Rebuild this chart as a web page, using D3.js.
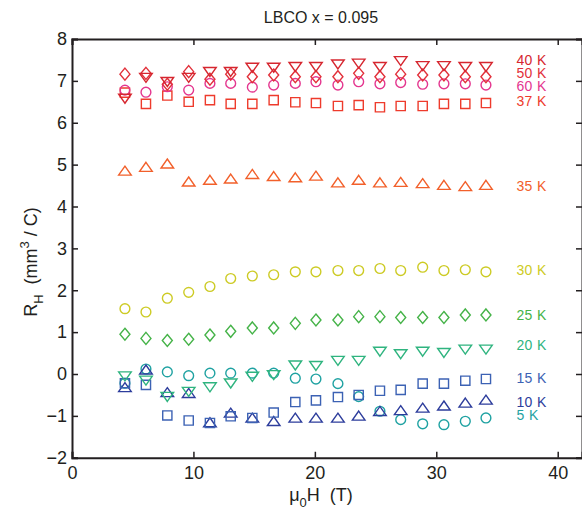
<!DOCTYPE html>
<html>
<head>
<meta charset="utf-8">
<script src="https://cdn.jsdelivr.net/npm/d3@7"></script>
<style>
  body { margin: 0; background: #fff; }
  text { font-family: Arial, "Liberation Sans", Helvetica, sans-serif; fill: #231f20; }
</style>
</head>
<body>
<svg id="chart"></svg>
<script>
var vWidth = 582;
var vHeight = 510;

// field values (T), same for every temperature
var fields = [4.36, 6.09, 7.85, 9.61, 11.36, 13.07, 14.85, 16.61, 18.39, 20.09, 21.9, 23.61, 25.36, 27.07, 28.88, 30.63, 32.39, 34.09];

// R_H values per temperature
var r40K = [6.58, 7.08, 6.98, 7.08, 7.22, 7.22, 7.32, 7.32, 7.34, 7.34, 7.40, 7.42, 7.34, 7.48, 7.36, 7.36, 7.34, 7.34];
var r50K = [7.16, 7.18, 6.92, 7.22, 7.04, 7.16, 7.10, 7.14, 7.10, 7.10, 7.10, 7.18, 7.10, 7.16, 7.14, 7.14, 7.10, 7.10];
var r60K = [6.78, 6.73, 6.86, 6.78, 6.94, 6.94, 6.85, 6.90, 6.94, 6.98, 6.90, 6.98, 6.93, 6.96, 6.92, 6.93, 6.93, 6.90];
var r37K = [6.72, 6.45, 6.65, 6.50, 6.54, 6.45, 6.45, 6.54, 6.49, 6.47, 6.40, 6.42, 6.37, 6.40, 6.40, 6.45, 6.45, 6.47];
var r35K = [4.85, 4.94, 5.02, 4.59, 4.63, 4.66, 4.77, 4.72, 4.69, 4.73, 4.57, 4.63, 4.57, 4.58, 4.55, 4.51, 4.48, 4.51];
var r30K = [1.56, 1.48, 1.81, 1.95, 2.09, 2.28, 2.34, 2.37, 2.44, 2.44, 2.47, 2.47, 2.52, 2.47, 2.55, 2.47, 2.49, 2.44];
var r25K = [0.95, 0.85, 0.80, 0.83, 0.93, 1.02, 1.10, 1.10, 1.21, 1.29, 1.29, 1.37, 1.37, 1.35, 1.35, 1.35, 1.41, 1.41];
var r20K = [-0.05, -0.15, -0.54, -0.42, -0.31, -0.22, -0.06, -0.02, 0.21, 0.20, 0.32, 0.32, 0.54, 0.48, 0.54, 0.51, 0.59, 0.59];
var r15K = [-0.22, -0.26, -0.99, -1.11, -1.17, -1.01, -1.05, -0.92, -0.67, -0.63, -0.55, -0.50, -0.40, -0.38, -0.23, -0.23, -0.16, -0.12];
var r10K = [-0.32, 0.10, -0.44, -0.46, -1.16, -0.93, -1.05, -1.13, -1.05, -1.05, -1.05, -1.00, -0.89, -0.87, -0.81, -0.76, -0.69, -0.62];
var r5K  = [-0.22, 0.12, 0.05, -0.04, 0.02, 0.02, 0.02, 0.02, -0.10, -0.12, -0.23, -0.54, -0.89, -1.09, -1.19, -1.21, -1.13, -1.05];

var seriesNames = ['40 K', '50 K', '60 K', '37 K', '35 K', '30 K', '25 K', '20 K', '15 K', '10 K', '5 K'];
var seriesValues = [r40K, r50K, r60K, r37K, r35K, r30K, r25K, r20K, r15K, r10K, r5K];
var seriesMarkers = ['down', 'diamond', 'circle', 'square', 'up', 'circle', 'diamond', 'down', 'square', 'up', 'circle'];
var seriesColors = ['#d6262f', '#e2303a', '#e4368f', '#ee3b2c', '#f2602b', '#cdcb25', '#45b348', '#2fb47f', '#3c62b4', '#2d3d9c', '#1fa2a2'];
// where the temperature labels sit (R_H units)
var labelY = [7.5, 7.18, 6.87, 6.52, 4.5, 2.49, 1.4, 0.7, -0.1, -0.67, -0.99];
var labelX = 36.6;

var xTicks = [0, 10, 20, 30, 40];
var yTicks = [-2, -1, 0, 1, 2, 3, 4, 5, 6, 7, 8];

var x = d3.scaleLinear().domain([0, 42]).range([72, 582]);
var y = d3.scaleLinear().domain([-2, 8]).range([457.75, 39]);

var svg = d3.select('#chart')
    .attr('width', vWidth)
    .attr('height', vHeight);

// marker shapes, sized like the matlab ones
var markerPath = {
  up: 'M0,-4.8L6.3,4.2L-6.3,4.2Z',
  down: 'M0,4.8L6.3,-4.2L-6.3,-4.2Z',
  diamond: 'M0,-6L5,0L0,6L-5,0Z',
  square: 'M-4.6,-4.6H4.6V4.6H-4.6Z',
  circle: d3.symbol().type(d3.symbolCircle).size(Math.PI * 4.9 * 4.9)()
};

var layers = svg.append('g');

// draw bottom series first so the top ones overlap like the original
for (var s = seriesNames.length - 1; s >= 0; s--) {
  var pts = fields.map(function (f, i) { return [f, seriesValues[s][i]]; });
  layers.append('g')
    .selectAll('path')
    .data(pts)
    .enter()
    .append('path')
    .attr('d', markerPath[seriesMarkers[s]])
    .attr('transform', function (d) { return 'translate(' + x(d[0]) + ',' + y(d[1]) + ')'; })
    .style('fill', 'none')
    .style('stroke', seriesColors[s])
    .style('stroke-width', 1.4);
}

// temperature labels
svg.append('g')
  .selectAll('text')
  .data(seriesNames)
  .enter()
  .append('text')
  .attr('x', x(labelX))
  .attr('y', function (d, i) { return y(labelY[i]); })
  .attr('dy', '0.36em')
  .style('font-size', '14px')
  .style('letter-spacing', '0.4px')
  .style('fill', function (d, i) { return seriesColors[i]; })
  .text(function (d) { return d; });

// axes box
var axisCol = '#231f20';
var tickLen = 6;

var gx = svg.append('g').attr('transform', 'translate(0,' + y(-2) + ')')
  .call(d3.axisBottom(x).tickValues(xTicks).tickSize(-tickLen).tickPadding(8)
    .tickFormat(function (d) { return d; }));
var gxTop = svg.append('g').attr('transform', 'translate(0,' + y(8) + ')')
  .call(d3.axisTop(x).tickValues(xTicks).tickSize(-tickLen).tickFormat(''));
var gy = svg.append('g').attr('transform', 'translate(' + x(0) + ',0)')
  .call(d3.axisLeft(y).tickValues(yTicks).tickSize(-tickLen).tickPadding(5)
    .tickFormat(function (d) { return d < 0 ? '\u2212' + (-d) : d; }));
var gyRight = svg.append('g').attr('transform', 'translate(' + x(42) + ',0)')
  .call(d3.axisRight(y).tickValues(yTicks).tickSize(-tickLen).tickFormat(''));

[gx, gxTop, gy, gyRight].forEach(function (g) {
  g.attr('font-family', null);
  g.select('.domain').attr('stroke', axisCol).attr('stroke-width', 2);
  g.selectAll('.tick line').attr('stroke', axisCol).attr('stroke-width', 1.5);
  g.selectAll('.tick text').style('font-size', '18px').style('fill', axisCol);
});

// title
svg.append('text')
  .attr('x', 321)
  .attr('y', 23)
  .attr('text-anchor', 'middle')
  .style('font-size', '16px')
  .text('LBCO x = 0.095');

// x label
var xl = svg.append('text')
  .attr('x', 321)
  .attr('y', 501)
  .attr('text-anchor', 'middle')
  .style('font-size', '18px');
xl.append('tspan').text('\u03bc');
xl.append('tspan').attr('dy', 6).style('font-size', '13px').text('0');
xl.append('tspan').attr('dy', -6).text('H\u00a0\u00a0(T)');

// y label
var yl = svg.append('text')
  .attr('transform', 'translate(37,' + 262 + ') rotate(-90)')
  .attr('text-anchor', 'middle')
  .style('font-size', '18px');
yl.append('tspan').text('R');
yl.append('tspan').attr('dy', 6).style('font-size', '13px').text('H');
yl.append('tspan').attr('dy', -6).text('\u00a0\u00a0(mm');
yl.append('tspan').attr('dy', -8).style('font-size', '13px').text('3');
yl.append('tspan').attr('dy', 8).text(' / C)');
</script>
</body>
</html>
